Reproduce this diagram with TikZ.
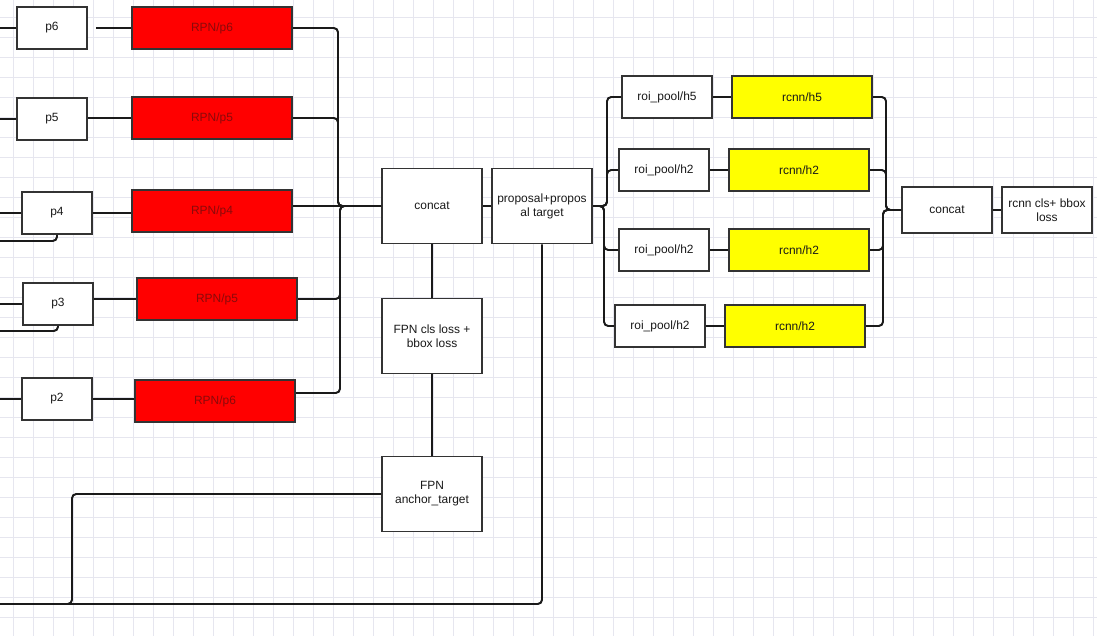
\documentclass[tikz,border=0pt]{standalone}
\usepackage{fontspec}
\setmainfont{Liberation Sans}
\definecolor{gridGray}{HTML}{E6E6EF}
\definecolor{rpnRed}{HTML}{FF0000}
\definecolor{rpnText}{HTML}{8A0A0A}
\definecolor{rcnnYellow}{HTML}{FFFF00}
\definecolor{edgeGray}{HTML}{333333}
\definecolor{wireBlack}{HTML}{1A1A1A}

\begin{document}
\begin{tikzpicture}[x=0.025cm,y=-0.025cm,font=\fontsize{8.5}{10}\selectfont,
    gridLine/.style={gridGray,line width=0.5pt},
    box/.style={draw=edgeGray,line width=1.4pt,fill=white,inner sep=1pt,align=center,text=black!90},
    pBox/.style={box,minimum width=1.75cm,minimum height=1.05cm},
    rpnBox/.style={box,fill=rpnRed,text=rpnText,minimum width=4cm,minimum height=1.05cm},
    roiBox/.style={box,minimum width=2.25cm,minimum height=1.05cm},
    rcnnBox/.style={box,fill=rcnnYellow,minimum width=3.5cm,minimum height=1.05cm},
    bigBox/.style={box,minimum width=2.5cm,minimum height=1.875cm},
    conn/.style={wireBlack,line width=1.4pt,rounded corners=3pt}]
                \useasboundingbox (0,0) rectangle (1097,636);
                \fill[white] (0,0) rectangle (1097,636);
                % background grid
                \foreach \gx in {13,33,...,1093} \draw[gridLine] (\gx,0) -- (\gx,636);
                \foreach \gy in {17,37,...,617} \draw[gridLine] (0,\gy) -- (1097,\gy);
                % pyramid levels
                \node[pBox] (p6) at (52,28) {p6};
                \node[pBox] (p5) at (52,119) {p5};
                \node[pBox] (p4) at (57,213) {p4};
                \node[pBox] (p3) at (58,304) {p3};
                \node[pBox] (p2) at (57,399) {p2};
                \node[rpnBox] (rpnP6) at (212,28) {RPN/p6};
                \node[rpnBox] (rpnP5) at (212,118) {RPN/p5};
                \node[rpnBox] (rpnP4) at (212,211) {RPN/p4};
                \node[rpnBox] (rpnP3) at (217,299) {RPN/p5};
                \node[rpnBox] (rpnP2) at (215,401) {RPN/p6};
                % middle column
                \node[bigBox] (concatA) at (432,206) {concat};
                \node[bigBox] (proposal) at (542,206) {proposal+propos\\al target};
                \node[bigBox] (fpnLoss) at (432,336) {FPN cls loss +\\bbox loss};
                \node[bigBox] (anchorTarget) at (432,494) {FPN\\anchor\_target};
                % rcnn heads
                \node[roiBox] (roiH5) at (667,97) {roi\_pool/h5};
                \node[roiBox] (roiH2a) at (664,170) {roi\_pool/h2};
                \node[roiBox] (roiH2b) at (664,250) {roi\_pool/h2};
                \node[roiBox] (roiH2c) at (660,326) {roi\_pool/h2};
                \node[rcnnBox] (rcnnH5) at (802,97) {rcnn/h5};
                \node[rcnnBox] (rcnnH2a) at (799,170) {rcnn/h2};
                \node[rcnnBox] (rcnnH2b) at (799,250) {rcnn/h2};
                \node[rcnnBox] (rcnnH2c) at (795,326) {rcnn/h2};
                \node[box,minimum width=2.25cm,minimum height=1.15cm] (concatB) at (947,210) {concat};
                \node[box,minimum width=2.25cm,minimum height=1.15cm] (rcnnLoss) at (1047,210) {rcnn cls+ bbox\\loss};
                % loose ends and bus lines
                \coordinate (inP6) at (0,28);
                \coordinate (inP5) at (0,119);
                \coordinate (inP4) at (0,213);
                \coordinate (outP4) at (0,241);
                \coordinate (inP3) at (0,304);
                \coordinate (outP3) at (0,331);
                \coordinate (inP2) at (0,399);
                \coordinate (gapP6) at (96,28);
                \coordinate (busA) at (338,0);
                \coordinate (busB) at (340,0);
                \coordinate (busC) at (607,0);
                \coordinate (busD) at (604,0);
                \coordinate (busE) at (886,0);
                \coordinate (busF) at (883,0);
                \coordinate (bottomLeft) at (0,604);
                \coordinate (turnAnchor) at (72,604);
                % left part
                \draw[conn] (inP6) -- (p6.west);
                \draw[conn] (inP5) -- (p5.west);
                \draw[conn] (inP4) -- (p4.west);
                \draw[conn] (inP3) -- (p3.west);
                \draw[conn] (inP2) -- (p2.west);
                \draw[conn] (p4.south) |- (outP4);
                \draw[conn] (p3.south) |- (outP3);
                \draw[conn] (gapP6) -- (rpnP6.west);
                \draw[conn] (p5.east|-rpnP5) -- (rpnP5.west);
                \draw[conn] (p4.east) -- (p4.east-|rpnP4.west);
                \draw[conn] (p3.east|-rpnP3) -- (rpnP3.west);
                \draw[conn] (p2.east) -- (p2.east-|rpnP2.west);
                \draw[conn] (rpnP6.east) -| (busA|-concatA.west) -- (concatA.west);
                \draw[conn] (rpnP5.east) -| (busA|-concatA.west) -- (concatA.west);
                \draw[conn] (rpnP4.east|-concatA.west) -- (concatA.west);
                \draw[conn] (rpnP3.east) -| (busB|-concatA.west) -- (concatA.west);
                \draw[conn] ([yshift=5.7pt]rpnP2.east) -| (busB|-concatA.west) -- (concatA.west);
                % middle part
                \draw[conn] (concatA.east) -- (proposal.west);
                \draw[conn] (concatA.south) -- (fpnLoss.north);
                \draw[conn] (fpnLoss.south) -- (anchorTarget.north);
                \draw[conn] (anchorTarget.west) -| (turnAnchor) -- ([xshift=-6pt]turnAnchor);
                \draw[conn] (bottomLeft) -| (proposal.south);
                % right part
                \draw[conn] (proposal.east) -| (busC|-roiH5.west) -- (roiH5.west);
                \draw[conn] (proposal.east) -| (busC|-roiH2a.west) -- (roiH2a.west);
                \draw[conn] (proposal.east) -| (busD|-roiH2b.west) -- (roiH2b.west);
                \draw[conn] (proposal.east) -| (busD|-roiH2c.west) -- (roiH2c.west);
                \draw[conn] (roiH5.east) -- (rcnnH5.west);
                \draw[conn] (roiH2a.east) -- (rcnnH2a.west);
                \draw[conn] (roiH2b.east) -- (rcnnH2b.west);
                \draw[conn] (roiH2c.east) -- (rcnnH2c.west);
                \draw[conn] (rcnnH5.east) -| (busE|-concatB.west) -- (concatB.west);
                \draw[conn] (rcnnH2a.east) -| (busE|-concatB.west) -- (concatB.west);
                \draw[conn] (rcnnH2b.east) -| (busF|-concatB.west) -- (concatB.west);
                \draw[conn] (rcnnH2c.east) -| (busF|-concatB.west) -- (concatB.west);
                \draw[conn] (concatB.east) -- (rcnnLoss.west);
            \end{tikzpicture}
\end{document}
